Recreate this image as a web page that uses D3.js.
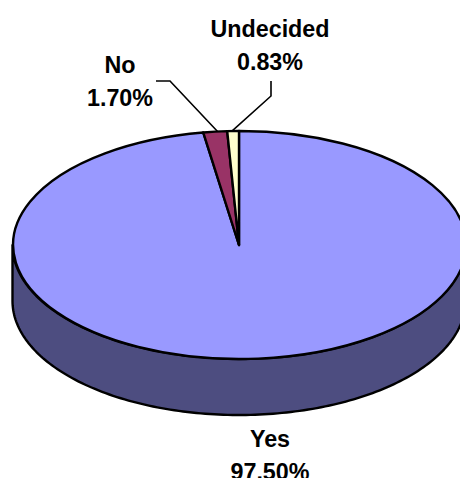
<!DOCTYPE html>
<html>
<head>
<meta charset="utf-8">
<script src="https://cdn.jsdelivr.net/npm/d3@7"></script>
<style>
  html, body { margin: 0; padding: 0; background: #fff; overflow: hidden; }
  svg { display: block; }
  text { font-family: "Liberation Sans", Arial, sans-serif; font-weight: bold; font-size: 23.3px; fill: #000; }
</style>
</head>
<body>
<svg width="460" height="478"></svg>
<script>
var categories = ["Yes", "No", "Undecided"];
var shares = [97.5, 1.7, 0.83];
var share_labels = ["97.50%", "1.70%", "0.83%"];
var slice_colors = ["#9999ff", "#993366", "#ffffcc"];
var side_color = "#4d4d80";

const cx = 239;
const cy = 245;
const rx = 226.5;
const ry = 114;
const depth = 56;

var svg = d3.select("svg");

var slices = d3.pie().sort(null)(shares);

// point on the top ellipse for a pie angle (0 = 12 o'clock, clockwise)
function rim_x(a) { return cx + rx * Math.sin(a); }
function rim_y(a) { return cy - ry * Math.cos(a); }

// front wall of the disc, only the lower half of the ellipse shows
var wall = d3.area()
  .x((a) => rim_x(a))
  .y0((a) => rim_y(a))
  .y1((a) => rim_y(a) + depth);

svg.append("path")
  .attr("d", wall(d3.range(Math.PI / 2, Math.PI * 1.5 + 0.01, 0.02)))
  .attr("fill", side_color)
  .attr("stroke", "#000")
  .attr("stroke-width", 2.4)
  .attr("stroke-linejoin", "round");

// top face: unit circle arcs squashed into the ellipse
var arc = d3.arc().innerRadius(0).outerRadius(1);

svg.append("g")
  .attr("transform", "translate(" + cx + "," + cy + ") scale(" + rx + "," + ry + ")")
  .selectAll("path")
  .data(slices)
  .join("path")
  .attr("d", arc)
  .attr("fill", (d, i) => slice_colors[i])
  .attr("stroke", "#000")
  .attr("stroke-width", 2.4)
  .attr("stroke-linejoin", "round")
  .attr("vector-effect", "non-scaling-stroke");

// label placement: centre x, first baseline, and the leader line bend points
var label_x = [270, 120, 270];
var label_y = [447, 73, 37];
var line_height = 32.5;
var leader_pts = [null, [[156, 81], [170, 81]], [[271, 81], [271, 96]]];
var leader_frac = [null, 0.6, 0.4]; // where along the slice's rim the leader lands

var leader = d3.line();

slices.forEach(function (d, i) {
  if (leader_pts[i]) {
    var a = d.startAngle + (d.endAngle - d.startAngle) * leader_frac[i];
    svg.append("path")
      .attr("d", leader(leader_pts[i].concat([[rim_x(a), rim_y(a)]])))
      .attr("fill", "none")
      .attr("stroke", "#000")
      .attr("stroke-width", 1.6);
  }
  var label = svg.append("text")
    .attr("text-anchor", "middle")
    .attr("x", label_x[i])
    .attr("y", label_y[i]);
  label.append("tspan").attr("x", label_x[i]).text(categories[i]);
  label.append("tspan").attr("x", label_x[i]).attr("dy", line_height).text(share_labels[i]);
});
</script>
</body>
</html>
